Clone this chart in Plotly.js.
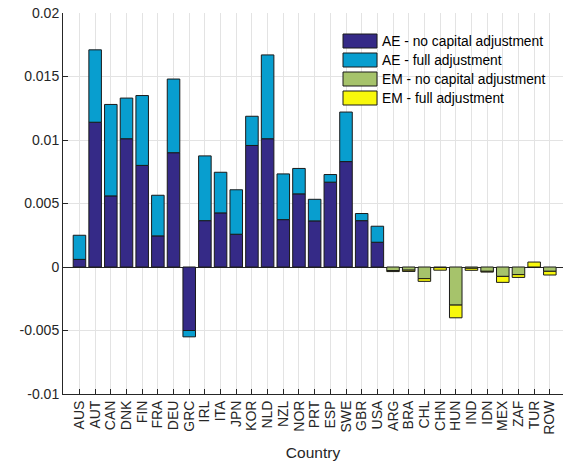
<!DOCTYPE html>
<html>
<head>
<meta charset="utf-8">
<script src="https://cdn.plot.ly/plotly-3.0.1.min.js"></script>
<style>
  html, body { margin: 0; padding: 0; background: #fff; }
  #chart { width: 563px; height: 466px; }
</style>
</head>
<body>
<div id="chart"></div>
<script>
"use strict"

var countries = ['AUS','AUT','CAN','DNK','FIN','FRA','DEU','GRC','IRL','ITA','JPN','KOR','NLD','NZL','NOR',
                 'PRT','ESP','SWE','GBR','USA','ARG','BRA','CHL','CHN','HUN','IND','IDN','MEX','ZAF','TUR','ROW'];

// advanced economies: no capital adjustment, and the extra from full adjustment
var ae_no_capital = [0.0006, 0.0114, 0.0056, 0.0101, 0.0080, 0.00245, 0.0090, -0.0050, 0.00365, 0.00426,
                     0.00258, 0.00957, 0.0101, 0.00373, 0.00576, 0.00363, 0.00668, 0.0083, 0.00365, 0.00195,
                     null, null, null, null, null, null, null, null, null, null, null];
var ae_full_extra = [0.0019, 0.0057, 0.0072, 0.0032, 0.0055, 0.0032, 0.0058, -0.0005, 0.0051, 0.0032,
                     0.0035, 0.0023, 0.0066, 0.0036, 0.0020, 0.0017, 0.0006, 0.0039, 0.00056, 0.00126,
                     null, null, null, null, null, null, null, null, null, null, null];
// emerging markets
var em_no_capital = [null, null, null, null, null, null, null, null, null, null,
                     null, null, null, null, null, null, null, null, null, null,
                     -0.00028, -0.00025, -0.00092, -0.00005, -0.0030, -0.0001, -0.00034, -0.00074, -0.0006, 0, -0.00034];
var em_full_extra = [null, null, null, null, null, null, null, null, null, null,
                     null, null, null, null, null, null, null, null, null, null,
                     -0.00008, -0.0001, -0.00021, -0.0002, -0.0010, -0.00016, -0.00006, -0.00047, -0.00022, 0.00039, -0.00029];

var series_names = ['AE - no capital adjustment', 'AE - full adjustment',
                    'EM - no capital adjustment', 'EM - full adjustment'];
var series_colors = ['#352a87', '#089ecf', '#a6c36b', '#f8f80c'];

var y_ticks = [-0.01, -0.005, 0, 0.005, 0.01, 0.015, 0.02];
var y_tick_labels = ['-0.01', '-0.005', '0', '0.005', '0.01', '0.015', '0.02'];

var series_values = [ae_no_capital, ae_full_extra, em_no_capital, em_full_extra];

var traces = series_values.map(function(vals, k) {
    return {
        type: 'bar',
        x: countries,
        y: vals,
        name: series_names[k],
        marker: {color: series_colors[k], line: {color: '#1a1a1a', width: 1}},
        showlegend: false,
        hoverinfo: 'x+y+name'
    };
});

// plot box in pixels
var W = 563, H = 466;
var L = 63, R = 0, T = 13, B = 72;
var pw = W - L - R, ph = H - T - B;

function px_x(x) { return (x - L) / pw; }
function px_y(y) { return (H - B - y) / ph; }

// legend drawn by hand so the swatches get the wide MATLAB look
var shapes = [];
var annotations = [];
var legend_rows = [41, 60, 79, 98];
legend_rows.forEach(function(yc, k) {
    shapes.push({
        type: 'rect', xref: 'paper', yref: 'paper',
        x0: px_x(343), x1: px_x(377), y0: px_y(yc + 7), y1: px_y(yc - 7),
        fillcolor: series_colors[k], line: {color: '#1a1a1a', width: 1}
    });
    annotations.push({
        xref: 'paper', yref: 'paper', x: px_x(380), y: px_y(yc),
        xanchor: 'left', yanchor: 'middle', showarrow: false,
        text: series_names[k],
        font: {family: 'Liberation Sans, Arial, sans-serif', size: 13.8, color: '#000'}
    });
});

var layout = {
    width: W, height: H,
    margin: {l: L, r: R, t: T, b: B, pad: 0},
    paper_bgcolor: '#fff', plot_bgcolor: '#fff',
    barmode: 'relative',
    bargap: 0.2,
    font: {family: 'Liberation Sans, Arial, sans-serif', size: 14, color: '#262626'},
    xaxis: {
        type: 'category',
        range: [-1.05, 30.84],
        tickmode: 'linear', tick0: 0, dtick: 1,
        tickangle: -90,
        ticks: 'inside', ticklen: 5, tickcolor: '#262626',
        showgrid: true, gridcolor: '#e3e3e3', gridwidth: 1,
        showline: true, linecolor: '#262626', linewidth: 1,
        tickfont: {size: 14, color: '#262626'},
        title: {text: 'Country', font: {size: 15.5, color: '#262626'}, standoff: 13},
        automargin: false
    },
    yaxis: {
        range: [-0.01, 0.02],
        tickvals: y_ticks, ticktext: y_tick_labels,
        ticks: 'inside', ticklen: 5, tickcolor: '#262626',
        showgrid: true, gridcolor: '#e3e3e3', gridwidth: 1,
        zeroline: true, zerolinecolor: '#262626', zerolinewidth: 1,
        showline: true, linecolor: '#262626', linewidth: 1,
        tickfont: {size: 14, color: '#262626'},
        automargin: false
    },
    shapes: shapes,
    annotations: annotations
};

Plotly.newPlot('chart', traces, layout, {displayModeBar: false, staticPlot: true});
</script>
</body>
</html>
